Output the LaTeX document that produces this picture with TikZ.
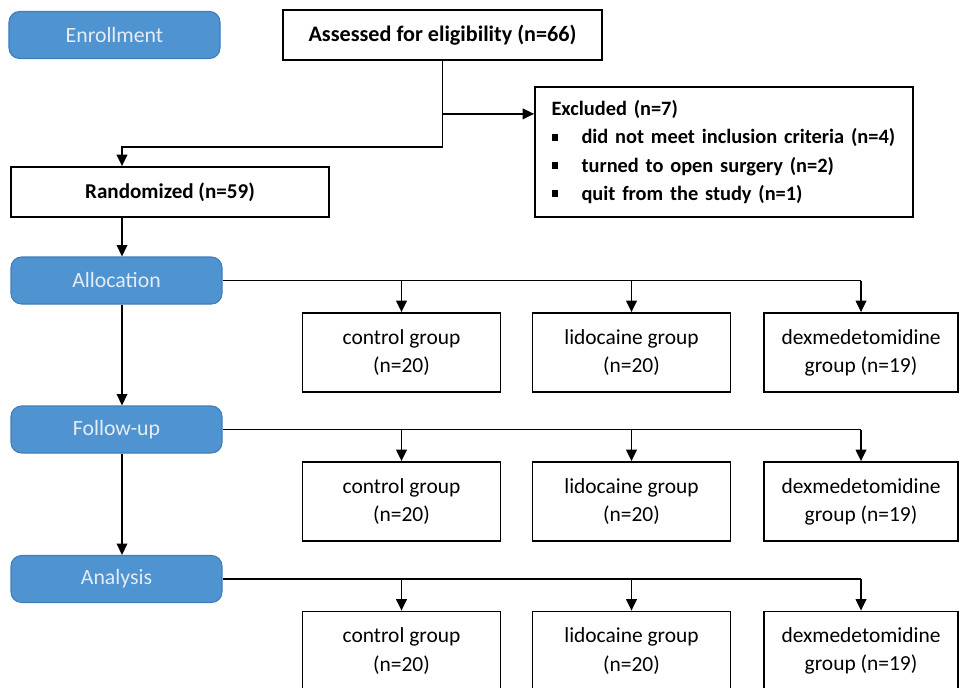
\documentclass[tikz,border=0pt]{standalone}
\usepackage{fontspec}
\setmainfont{Carlito}
\usetikzlibrary{arrows.meta, positioning, calc}
\definecolor{phaseblue}{HTML}{4F93D0}
\definecolor{phaseedge}{HTML}{3F7DBA}
\definecolor{phasetext}{HTML}{E4ECF5}
\newcommand{\sqb}{\makebox[0.6cm][l]{\rule[1.8pt]{3.8pt}{3.8pt}}}
\newcommand{\boxfont}{\fontsize{12.2}{16}\selectfont}

\begin{document}
\begin{tikzpicture}[
  box/.style={draw, line width=1pt, align=center, inner sep=0pt, font=\boxfont},
  boldbox/.style={box, font=\fontsize{#1}{16}\selectfont\bfseries},
  phase/.style={draw=phaseedge, line width=0.6pt, fill=phaseblue, text=phasetext, rounded corners=6pt,
    minimum width=4.22cm, minimum height=0.94cm, inner sep=0pt, font=\fontsize{12.4}{14}\selectfont},
  group/.style={box, minimum width=3.96cm, minimum height=1.58cm},
  arrow/.style={-{Triangle[length=6.5pt,width=6pt]}, line width=1pt}
]
\useasboundingbox (0,0) rectangle (19.2,-13.74);
% phases on the left
\node[phase] (enroll) at (2.29,-0.70) {Enrollment};
\node[phase] (alloc) at (2.33,-5.61) {Allocation};
\node[phase] (follow) at (2.33,-8.59) {Follow-up};
\node[phase] (analysis) at (2.33,-11.58) {Analysis};
% enrollment
\node[boldbox=12.6, minimum width=6.38cm, minimum height=1cm] (assessed) at (8.85,-0.70) {Assessed for eligibility (n=66)};
\node[boldbox=11.6, minimum width=7.56cm, minimum height=2.6cm, text width=6.9cm, inner xsep=0.33cm, align=left]
  (excluded) at (14.48,-3.04)
  {Excluded (n=7)\\
   \sqb did not meet inclusion criteria (n=4)\\
   \sqb turned to open surgery (n=2)\\
   \sqb quit from the study (n=1)};
\node[boldbox=12, minimum width=6.36cm, minimum height=1cm] (random) at (3.40,-3.84) {Randomized (n=59)};
\coordinate (col) at (2.44,0);
\coordinate (split) at ($(assessed.south)+(0,-1.06)$);
\coordinate (turn) at ($(assessed.south)+(0,-1.72)$);
\draw[line width=1pt] (assessed.south) -- (turn);
\draw[arrow] (split) -- (split -| excluded.west);
\draw[arrow] (turn) -| (col |- random.north);
\draw[arrow] (col |- random.south) -- (col |- alloc.north);
\draw[arrow] (col |- alloc.south) -- (col |- follow.north);
\draw[arrow] (col |- follow.south) -- (col |- analysis.north);
% three groups per phase
\foreach \ph/\r in {alloc/a, follow/f, analysis/n}{
  \node[group] (\r1) at ($(\ph)+(5.70,-1.44)$) {control group\\(n=20)};
  \node[group] (\r2) at ($(\ph)+(10.30,-1.44)$) {lidocaine group\\(n=20)};
  \node[group, minimum width=3.88cm] (\r3) at ($(\ph)+(14.89,-1.44)$) {dexmedetomidine\\group (n=19)};
  \draw[line width=1pt] (\ph.east) -- (\ph.east -| \r3.north);
  \foreach \g in {1,2,3} \draw[arrow] (\ph.east -| \r\g.north) -- (\r\g.north);
}
\end{tikzpicture}
\end{document}
